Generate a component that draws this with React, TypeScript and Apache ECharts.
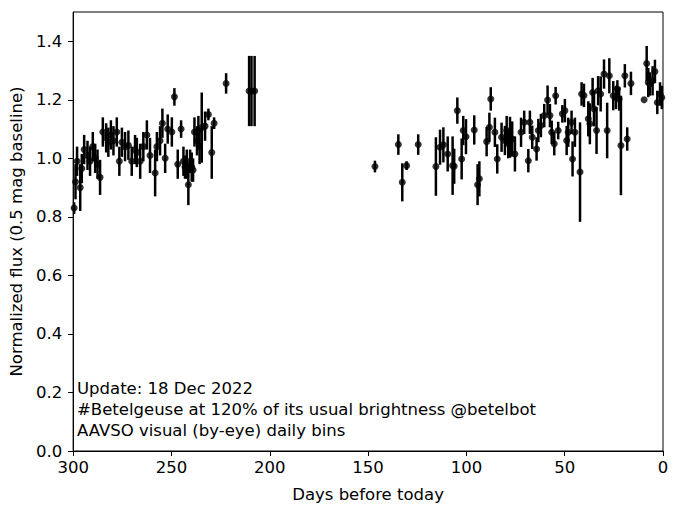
import React, { useEffect, useRef } from "react";
import * as echarts from "echarts";

const days = [
  299.5, 298.8, 298.0, 296.4, 295.6, 294.4, 292.7, 291.4, 290.0, 288.8, 287.6, 286.3,
  284.9, 283.2, 282.1, 280.8, 279.5, 277.8, 276.5, 275.2, 273.6, 271.9, 270.2, 268.5,
  267.6, 265.9, 264.3, 262.5, 260.9, 258.3, 257.4, 255.8, 254.6, 253.2, 251.9, 249.8,
  248.5, 246.8, 245.1, 243.9, 243.1, 242.2, 241.4, 240.5, 239.7, 239.0, 238.3, 237.0,
  236.3, 235.7, 234.6, 232.9, 231.2, 229.5, 228.3, 222.2, 210.5, 209.3, 207.7,
  146.5, 134.6, 132.6, 130.4, 124.5, 115.5, 113.4, 111.7, 109.5, 107.0, 106.2, 104.6,
  102.4, 101.6, 100.2, 96.0, 94.3, 93.4, 89.7, 88.3, 87.6, 85.5, 84.3, 82.1, 80.4,
  79.5, 78.7, 77.8, 76.7, 75.3, 72.2, 70.6, 68.5, 67.7, 66.5, 64.3, 63.4, 62.1, 60.4,
  58.7, 57.5, 56.6, 55.3, 54.6, 53.3, 51.2, 49.9, 49.0, 48.2, 46.5, 46.0, 44.8, 42.2,
  41.4, 40.2, 38.0, 37.2, 35.8, 35.1, 33.8, 33.0, 31.7, 30.0, 28.4, 27.3, 25.3, 23.9,
  23.2, 22.3, 21.4, 19.4, 18.2, 16.3, 9.6, 8.3, 7.5, 6.7, 5.3, 4.1, 2.9, 1.5, 0.6,
];

const flux = [
  0.83, 0.92, 0.99, 0.9, 0.965, 1.03, 1.01, 0.99, 1.04, 1.0, 0.98, 0.935,
  1.09, 1.07, 1.055, 1.08, 1.06, 1.09, 0.99, 1.055, 1.04, 1.045, 0.99, 1.03,
  1.02, 0.99, 1.04, 1.08, 1.01, 0.95, 1.04, 1.06, 1.12, 1.0, 1.1, 1.09,
  1.21, 0.98, 1.1, 0.99, 0.97, 0.98, 0.91, 0.99, 0.97, 0.96, 1.09, 1.06,
  1.095, 1.04, 1.105, 1.11, 1.15, 1.02, 1.12, 1.256, 1.23, 1.23, 1.23,
  0.972, 1.047, 0.918, 0.975, 1.047, 0.972, 1.038, 1.046, 1.015, 0.975, 0.973, 1.163,
  0.998, 1.095, 1.074, 1.097, 0.91, 0.93, 1.057, 1.106, 1.203, 1.089, 0.998, 1.072, 1.061,
  1.095, 1.05, 1.072, 1.066, 1.015, 1.089, 1.123, 0.992, 1.123, 1.072, 1.032, 1.095, 1.112, 1.146,
  1.199, 1.146, 1.089, 1.05, 1.214, 1.095, 1.152, 1.163, 1.061, 1.089, 1.123, 0.998, 1.089, 0.953,
  1.22, 1.215, 1.135, 1.118, 1.225, 1.169, 1.095, 1.231, 1.22, 1.288, 1.095, 1.282, 1.214, 1.208,
  1.237, 1.203, 1.044, 1.282, 1.066, 1.256, 1.2, 1.324, 1.259, 1.254, 1.265, 1.297, 1.191, 1.22, 1.208,
];

const err = [
  0.02, 0.06, 0.05, 0.08, 0.05, 0.05, 0.05, 0.05, 0.05, 0.05, 0.05, 0.06,
  0.05, 0.05, 0.05, 0.05, 0.05, 0.05, 0.05, 0.05, 0.05, 0.05, 0.05, 0.05,
  0.05, 0.06, 0.05, 0.05, 0.06, 0.08, 0.05, 0.05, 0.05, 0.05, 0.05, 0.05,
  0.03, 0.05, 0.03, 0.05, 0.04, 0.05, 0.07, 0.04, 0.05, 0.04, 0.05, 0.05,
  0.05, 0.06, 0.12, 0.05, 0.02, 0.09, 0.02, 0.035, 0.12, 0.12, 0.12,
  0.02, 0.035, 0.065, 0.015, 0.035, 0.1, 0.06, 0.06, 0.06, 0.1, 0.06, 0.045,
  0.07, 0.05, 0.06, 0.05, 0.07, 0.06, 0.05, 0.05, 0.04, 0.05, 0.05, 0.05, 0.05,
  0.05, 0.05, 0.07, 0.06, 0.06, 0.05, 0.04, 0.04, 0.04, 0.04, 0.04, 0.04, 0.04, 0.04,
  0.05, 0.04, 0.04, 0.04, 0.03, 0.03, 0.03, 0.04, 0.05, 0.05, 0.04, 0.06, 0.05, 0.17,
  0.04, 0.04, 0.06, 0.07, 0.05, 0.06, 0.08, 0.05, 0.06, 0.05, 0.095, 0.06, 0.05, 0.04,
  0.03, 0.04, 0.17, 0.04, 0.04, 0.04, 0.0, 0.06, 0.05, 0.04, 0.05, 0.04, 0.04, 0.04, 0.04,
];

const annotationLines = [
  "Update: 18 Dec 2022",
  "#Betelgeuse at 120% of its usual brightness @betelbot",
  "AAVSO visual (by-eye) daily bins",
];

const xTitle = "Days before today";
const yTitle = "Normalized flux (0.5 mag baseline)";

const FONT = "DejaVu Sans";
const FS = 16.5;

export default function App() {
  const ref = useRef<HTMLDivElement>(null);

  useEffect(() => {
    if (!ref.current) return;
    const chart = echarts.init(ref.current, undefined, { renderer: "svg" });
    const points = days.map((d, i) => [d, flux[i], err[i]]);

    const axisCommon = {
      axisLine: { show: true, onZero: false, lineStyle: { color: "#000", width: 1 } },
      axisTick: { show: true, inside: false, length: 5, lineStyle: { color: "#000", width: 1 } },
      splitLine: { show: false },
      nameTextStyle: { color: "#000", fontFamily: FONT, fontSize: FS },
    };

    chart.setOption({
      animation: false,
      backgroundColor: "#fff",
      grid: {
        left: 73,
        right: 17,
        top: 12,
        bottom: 64,
        show: true,
        borderColor: "#000",
        borderWidth: 1,
        containLabel: false,
      },
      xAxis: {
        type: "value",
        inverse: true,
        min: 0,
        max: 300,
        interval: 50,
        name: xTitle,
        nameLocation: "middle",
        nameGap: 35,
        ...axisCommon,
        axisLabel: {
          color: "#000",
          fontFamily: FONT,
          fontSize: FS,
          margin: 8,
          formatter: (v: number) => String(v),
        },
      },
      yAxis: {
        type: "value",
        min: 0,
        max: 1.5,
        interval: 0.2,
        name: yTitle,
        nameLocation: "middle",
        nameGap: 45,
        ...axisCommon,
        axisLabel: {
          color: "#000",
          fontFamily: FONT,
          fontSize: FS,
          margin: 11,
          showMaxLabel: false,
          formatter: (v: number) => v.toFixed(1),
        },
      },
      series: [
        {
          type: "custom",
          data: points,
          renderItem: (params: any, api: any) => {
            const d = api.value(0);
            const v = api.value(1);
            const e = api.value(2);
            const p1 = api.coord([d, v - e]);
            const p2 = api.coord([d, v + e]);
            return {
              type: "line",
              shape: { x1: p1[0], y1: p1[1], x2: p2[0], y2: p2[1] },
              style: { stroke: "#000", lineWidth: 2.5 },
            };
          },
          encode: { x: 0, y: 1 },
          z: 2,
        },
        {
          type: "scatter",
          data: points.map((p) => [p[0], p[1]]),
          symbol: "circle",
          symbolSize: 7,
          itemStyle: { color: "#000" },
          z: 3,
        },
      ],
      graphic: annotationLines.map((t, i) => ({
        type: "text",
        left: 77,
        top: 380 + i * 21,
        style: {
          text: t,
          fill: "#000",
          fontFamily: FONT,
          fontSize: FS,
        },
      })),
    });

    return () => chart.dispose();
  }, []);

  return (
    <div
      ref={ref}
      style={{ position: "absolute", left: 0, top: 0, width: 680, height: 515 }}
    />
  );
}
